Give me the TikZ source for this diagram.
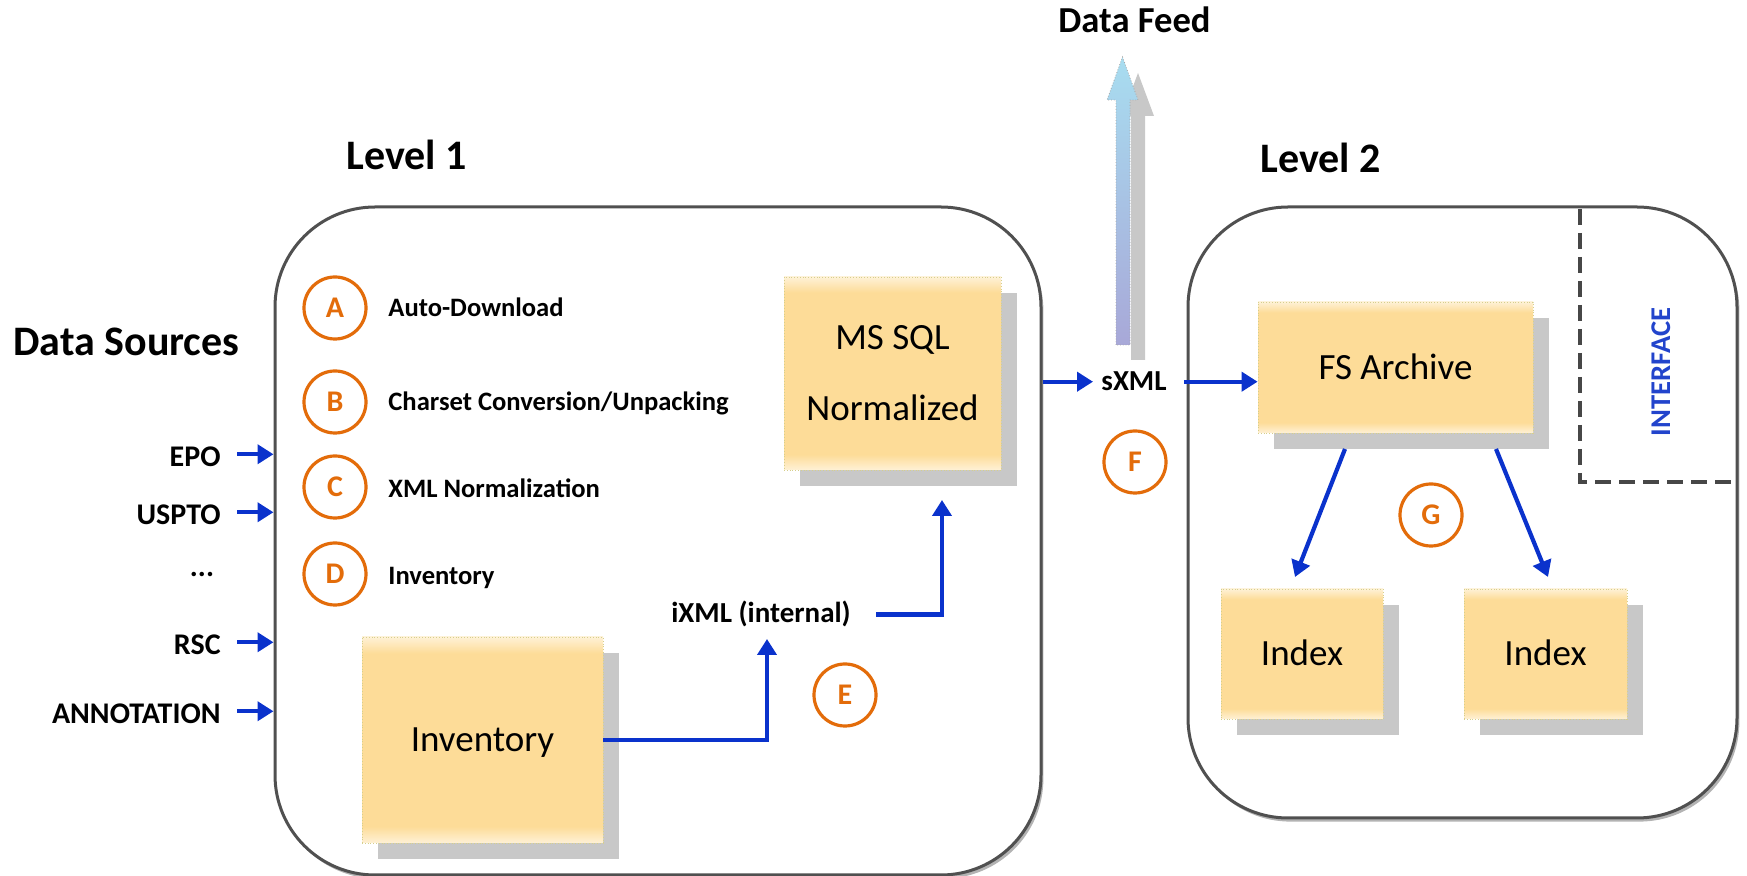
\documentclass[tikz,border=0pt]{standalone}
\usepackage{fontspec}
\setmainfont{Carlito}
\usetikzlibrary{arrows.meta,shadows,calc}
\definecolor{boxc}{HTML}{FDDC98}
\definecolor{shc}{HTML}{C8C8C8}
\definecolor{arrc}{HTML}{0A32CC}
\definecolor{orc}{HTML}{E36C0A}
\definecolor{bordc}{HTML}{D6CF8C}
\definecolor{framec}{HTML}{505050}
\definecolor{intc}{HTML}{2244CC}
\definecolor{feedtop}{HTML}{A8DDF0}
\definecolor{feedbot}{HTML}{A8A8D8}
\pgfdeclareverticalshading{boxshade}{100bp}{color(0bp)=(white); color(25bp)=(white!60!boxc); color(29bp)=(boxc); color(71bp)=(boxc); color(75bp)=(white!60!boxc); color(100bp)=(white)}
\begin{document}
\begin{tikzpicture}[x=0.5pt,y=-0.5pt,
  bigbox/.style={draw=framec, line width=1.5pt, rounded corners=50pt, fill=white, inner sep=0pt,
    drop shadow={shadow xshift=1.2pt, shadow yshift=-1.8pt, fill=gray, opacity=0.6}},
  ob/.style={draw=bordc, densely dotted, line width=0.4pt, shading=boxshade, inner sep=0pt,
    drop shadow={shadow xshift=8pt, shadow yshift=-8pt, fill=shc, opacity=1},
    font=\fontsize{18.5}{22}\selectfont},
  one/.style={text height=11.6pt, text depth=0pt},
  circ/.style={circle, draw=orc, line width=1.6pt, minimum size=31pt, inner sep=0pt, text=orc,
    font=\bfseries\fontsize{15}{18}\selectfont},
  lbl/.style={inner sep=0pt, anchor=base west, font=\bfseries\fontsize{13.3}{16}\selectfont},
  src/.style={inner sep=0pt, anchor=base east, font=\bfseries\fontsize{15}{18}\selectfont},
  ttl/.style={inner sep=0pt, anchor=base west, font=\bfseries\fontsize{21}{25}\selectfont},
  mid/.style={inner sep=0pt, anchor=base, font=\bfseries\fontsize{14.5}{17}\selectfont},
  arr/.style={draw=arrc, line width=2.1pt, -{Triangle[width=9.5pt,length=8pt]}}
]
\useasboundingbox (0,0) rectangle (1747,876);

% big frames
\node[bigbox, minimum width=383pt, minimum height=334pt] (L1) at (658,541) {};
\node[bigbox, minimum width=274.5pt, minimum height=305.5pt] (L2) at (1462.5,512.5) {};

% dashed interface region
\draw[color=black!72, line width=1.7pt, dash pattern=on 8pt off 4pt] (1580,209) -- (1580,482) -- (1736,482);
\node[rotate=90, anchor=base, inner sep=0pt, text=intc, font=\bfseries\fontsize{14.3}{16}\selectfont] (intf) at (1670,372) {INTERFACE};

% titles
\node[ttl] (ds) at (13,356) {Data Sources};
\node[ttl] (lv1) at (346,170) {Level 1};
\node[ttl] (lv2) at (1260,173) {Level 2};
\node[inner sep=0pt, anchor=base, font=\bfseries\fontsize{18.3}{22}\selectfont] (feed) at (1134.5,33) {Data Feed};

% data feed arrow (shadow + gradient)
\fill[shc] (1131,360) -- (1131,116) -- (1122,116) -- (1138,73) -- (1154,116) -- (1145,116) -- (1145,360) -- cycle;
\draw[draw=gray!70, densely dotted, line width=0.4pt, top color=feedtop, bottom color=feedbot]
  (1116,345) -- (1116,100) -- (1107,100) -- (1122.5,57) -- (1138,100) -- (1130,100) -- (1130,345) -- cycle;

% sources
\node[src] (epo) at (221,467) {EPO};
\node[src] (uspto) at (221,525) {USPTO};
\node[inner sep=0pt, anchor=base, font=\bfseries\fontsize{15}{18}\selectfont] (dots) at (202,577) {...};
\node[src] (rsc) at (221,655) {RSC};
\node[src] (annot) at (221,724) {ANNOTATION};
\foreach \s in {epo,uspto,rsc,annot}{
  \draw[arr] ([xshift=8pt,yshift=1.5pt]\s.east) -- ([yshift=1.5pt]L1.west |- \s.east);
}

% steps A-D
\node[circ] (cA) at (335,308) {A};
\node[circ] (cB) at (335,402) {B};
\node[circ] (cC) at (335,487) {C};
\node[circ] (cD) at (335,574) {D};
\node[lbl] (tA) at (388,317) {Auto-Download};
\node[lbl] (tB) at (388,411) {Charset Conversion/Unpacking};
\node[lbl] (tC) at (388,498) {XML Normalization};
\node[lbl] (tD) at (388,585) {Inventory};

% boxes
\node[ob, minimum width=108.5pt, minimum height=96.5pt, align=center, font=\fontsize{18.5}{35.5}\selectfont] (sql) at (892.5,373.5) {MS SQL\\Normalized};
\node[ob, one, minimum width=120.5pt, minimum height=103pt] (inv) at (482.5,740) {Inventory};
\node[ob, one, minimum width=137.5pt, minimum height=65.5pt] (fs) at (1395.5,367.5) {FS Archive};
\node[ob, one, minimum width=81pt, minimum height=65pt] (ixa) at (1302,654) {Index};
\node[ob, one, minimum width=81.5pt, minimum height=65pt] (ixb) at (1545.5,654) {Index};

% middle labels
\node[mid] (ixml) at (761,623) {iXML (internal)};
\node[mid] (sxml) at (1134,391) {sXML};

% circles E F G
\node[circ] (cE) at (845,695) {E};
\node[circ] (cF) at (1135,462) {F};
\node[circ] (cG) at (1431,515) {G};

% connectors
\coordinate (e1) at (767,639);
\coordinate (m1) at (942,500);
\draw[arr] (inv.east) -| (e1);
\draw[arr] ([xshift=12.5pt]ixml.east) -| (m1);
\draw[arr] (L1.east |- sxml.center) -- ([xshift=-4pt]sxml.west);
\draw[arr] ([xshift=8.5pt]sxml.east) -- (fs.west |- sxml.center);
\coordinate (fa) at (1345,449);
\coordinate (fb) at (1496,449);
\coordinate (ta) at (1295,577);
\coordinate (tb) at (1548,577);
\draw[arr] (fa) -- (ta);
\draw[arr] (fb) -- (tb);
\end{tikzpicture}
\end{document}
